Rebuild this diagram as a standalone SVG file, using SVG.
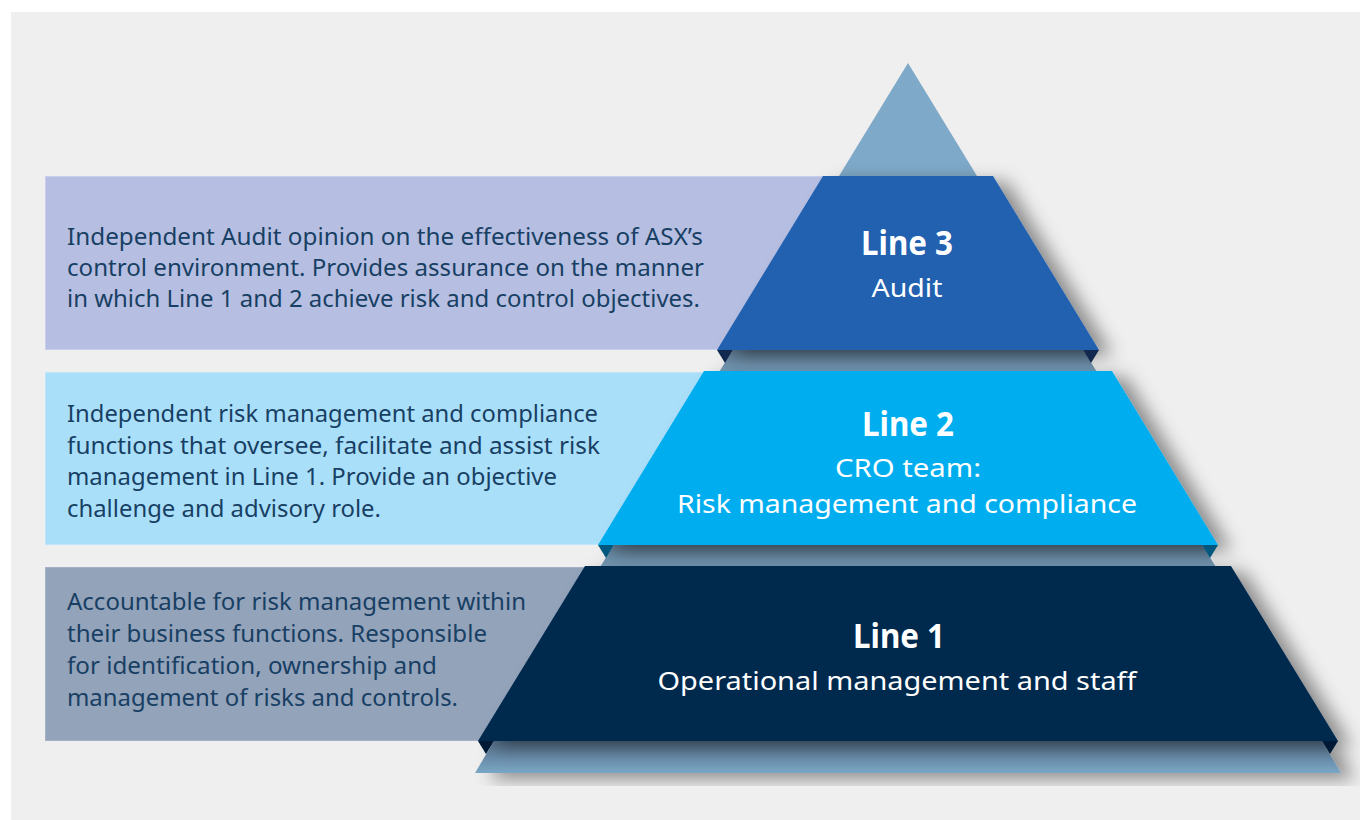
<svg xmlns="http://www.w3.org/2000/svg" width="1360" height="820" viewBox="0 0 1360 820">
  <style>
    .desc { font-family: "Noto Sans", "Open Sans", sans-serif; font-size: 24px; fill: #183f64; }
    .title { font-family: "Noto Sans", "Open Sans", sans-serif; font-size: 34px; font-weight: 700; fill: #ffffff; text-anchor: middle; }
    .sub { font-family: "Noto Sans", "Open Sans", sans-serif; font-size: 25px; fill: #ffffff; text-anchor: middle; }
    .box { stroke-width: 1; }
  </style>
  <defs>
    <filter id="shadow" x="-20%" y="-30%" width="150%" height="170%">
      <feDropShadow dx="14" dy="6" stdDeviation="9" flood-color="#000000" flood-opacity="0.42"/>
    </filter>
    <linearGradient id="band" x1="0" y1="0" x2="0" y2="1">
      <stop offset="0" stop-color="#5a758c"/>
      <stop offset="1" stop-color="#7aa1bf"/>
    </linearGradient>
    <linearGradient id="bandBase" x1="0" y1="0" x2="0" y2="1">
      <stop offset="0" stop-color="#56708a"/>
      <stop offset="1" stop-color="#7aa6c6"/>
    </linearGradient>
  </defs>

  <!-- page background -->
  <rect x="0" y="0" width="1360" height="820" fill="#ffffff"/>
  <rect x="11" y="12" width="1349" height="808" fill="#efefef"/>

  <!-- description panels, drawn behind the pyramid -->
  <g id="box-line3">
    <rect class="box" x="45.5" y="176.5" width="790" height="173" fill="#b6bfe2" stroke="#c9cfea"/>
    <text class="desc" x="67" y="245" textLength="636" lengthAdjust="spacingAndGlyphs">Independent Audit opinion on the effectiveness of ASX’s</text>
    <text class="desc" x="67" y="276" textLength="637" lengthAdjust="spacingAndGlyphs">control environment. Provides assurance on the manner</text>
    <text class="desc" x="67" y="307" textLength="633" lengthAdjust="spacingAndGlyphs">in which Line 1 and 2 achieve risk and control objectives.</text>
  </g>
  <g id="box-line2">
    <rect class="box" x="45.5" y="372.5" width="680" height="172" fill="#aadffa" stroke="#bde6fb"/>
    <text class="desc" x="67" y="422" textLength="531" lengthAdjust="spacingAndGlyphs">Independent risk management and compliance</text>
    <text class="desc" x="67" y="454" textLength="533" lengthAdjust="spacingAndGlyphs">functions that oversee, facilitate and assist risk</text>
    <text class="desc" x="67" y="485" textLength="490" lengthAdjust="spacingAndGlyphs">management in Line 1. Provide an objective</text>
    <text class="desc" x="67" y="517" textLength="314" lengthAdjust="spacingAndGlyphs">challenge and advisory role.</text>
  </g>
  <g id="box-line1">
    <rect class="box" x="45.5" y="567.5" width="560" height="173" fill="#93a3ba" stroke="#a5b2c5"/>
    <text class="desc" x="67" y="610" textLength="459" lengthAdjust="spacingAndGlyphs">Accountable for risk management within</text>
    <text class="desc" x="67" y="642" textLength="420" lengthAdjust="spacingAndGlyphs">their business functions. Responsible</text>
    <text class="desc" x="67" y="674" textLength="370" lengthAdjust="spacingAndGlyphs">for identification, ownership and</text>
    <text class="desc" x="67" y="706" textLength="391" lengthAdjust="spacingAndGlyphs">management of risks and controls.</text>
  </g>

  <!-- pyramid -->
  <g id="apex">
    <polygon points="908,63 977,176 839,176" fill="#7ea9c8"/>
  </g>

  <g id="tier-line3">
    <polygon points="733,350 1083,350 1097,372 719,372" fill="url(#band)"/>
    <polygon points="823,176 993,176 1099,350 717,350" fill="#2461b0" filter="url(#shadow)"/>
    <polygon points="717,350 733,350 725,363" fill="#11294f"/>
    <polygon points="1083,350 1099,350 1091,363" fill="#11294f"/>
    <text class="title" x="907" y="255" textLength="92" lengthAdjust="spacingAndGlyphs">Line 3</text>
    <text class="sub" x="907" y="297" textLength="71" lengthAdjust="spacingAndGlyphs">Audit</text>
  </g>

  <g id="tier-line2">
    <polygon points="614,545 1202,545 1216,567 600,567" fill="url(#band)"/>
    <polygon points="704,371 1112,371 1218,545 598,545" fill="#00aeef" filter="url(#shadow)"/>
    <polygon points="598,545 614,545 606,558" fill="#00587e"/>
    <polygon points="1202,545 1218,545 1210,558" fill="#00587e"/>
    <text class="title" x="908" y="436" textLength="92" lengthAdjust="spacingAndGlyphs">Line 2</text>
    <text class="sub" x="908" y="477" textLength="146" lengthAdjust="spacingAndGlyphs">CRO team:</text>
    <text class="sub" x="907" y="513" textLength="460" lengthAdjust="spacingAndGlyphs">Risk management and compliance</text>
  </g>

  <g id="tier-line1">
    <polygon points="494,741 1322,741 1341,773 475,773" fill="url(#bandBase)" filter="url(#shadow)"/>
    <polygon points="585,566 1231,566 1338,741 478,741" fill="#002a4e" filter="url(#shadow)"/>
    <polygon points="478,741 494,741 486,754" fill="#001a36"/>
    <polygon points="1322,741 1338,741 1330,754" fill="#001a36"/>
    <text class="title" x="899" y="648" textLength="92" lengthAdjust="spacingAndGlyphs">Line 1</text>
    <text class="sub" x="897" y="690" textLength="479" lengthAdjust="spacingAndGlyphs">Operational management and staff</text>
  </g>
</svg>
